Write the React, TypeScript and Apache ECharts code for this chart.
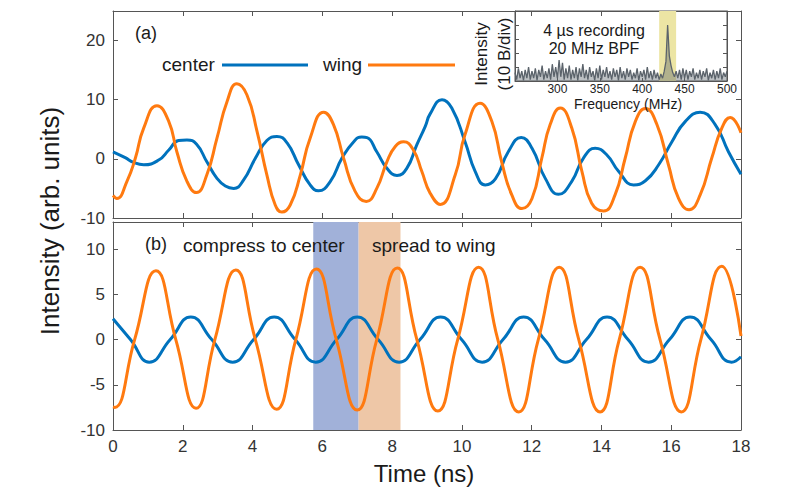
import React, { useEffect, useRef } from "react";
import * as echarts from "echarts";

// ---------- data ----------
// Panel (a): time (ns), intensity (arb. units)
const topCenter: [number, number][] = [
  [0, 1.2], [0.35, 0.2], [0.59, -0.6], [0.88, -1.0], [1.31, -0.2], [1.6, 1.5], [1.88, 3.1],
  [2.12, 3.2], [2.39, 2.5], [2.69, -0.5], [2.98, -3.3], [3.22, -4.6], [3.46, -5.0], [3.74, -3.6],
  [4.08, 0.1], [4.41, 3.1], [4.7, 3.8], [4.99, 2.7], [5.32, -1.0], [5.65, -4.4], [5.89, -5.4],
  [6.23, -3.8], [6.56, 0.1], [6.9, 2.9], [7.13, 3.7], [7.28, 3.6], [7.56, 1.2], [7.85, -1.6],
  [8.14, -2.8], [8.42, -1.6], [8.71, 2.4], [8.95, 5.5], [9.09, 7.6], [9.43, 10.0], [9.71, 8.6],
  [10.09, 2.9], [10.38, -2.1], [10.67, -4.4], [10.96, -3.4], [11.33, 1.2], [11.7, 3.6],
  [12.01, 1.8], [12.39, -3.3], [12.77, -6.0], [13.15, -3.8], [13.48, 0.1], [13.82, 1.8],
  [14.15, 0.7], [14.49, -2.1], [14.92, -4.4], [15.26, -3.7], [15.64, -1.0], [16.02, 2.9],
  [16.4, 6.3], [16.83, 7.9], [17.26, 5.8], [17.64, 1.2], [18, -2.6],
];
const topWing: [number, number][] = [
  [0, -6.2], [0.11, -6.7], [0.4, -3.8], [0.64, 0.1], [0.88, 5.2], [1.26, 9.0], [1.6, 6.3],
  [1.83, 1.2], [2.12, -3.8], [2.39, -5.7], [2.69, -2.7], [2.98, 3.5], [3.27, 9.7], [3.55, 12.7],
  [3.84, 10.8], [4.13, 4.6], [4.41, -2.7], [4.65, -7.8], [4.84, -9.0], [5.08, -7.8], [5.37, -2.7],
  [5.65, 3.5], [6.04, 7.9], [6.32, 5.8], [6.61, 0.1], [6.94, -5.5], [7.26, -7.2], [7.56, -5.0],
  [7.85, -0.5], [8.09, 2.1], [8.33, 2.9], [8.61, 1.5], [8.85, -2.1], [9.09, -5.8], [9.38, -7.7],
  [9.81, -2.7], [10.09, 4.1], [10.52, 9.4], [10.86, 6.3], [11.14, -0.5], [11.43, -6.1],
  [11.72, -8.4], [12.01, -6.7], [12.29, 0.1], [12.53, 5.8], [12.82, 8.6], [13.15, 5.2],
  [13.44, -2.1], [13.72, -7.5], [14.06, -8.8], [14.39, -6.1], [14.68, 0.1], [14.97, 6.3],
  [15.26, 8.5], [15.59, 5.8], [15.92, -1.0], [16.21, -6.7], [16.51, -8.6], [16.83, -6.1],
  [17.16, 0.1], [17.45, 5.2], [17.69, 7.0], [18, 4.4],
];

// Panel (b)
const bottomCenter: [number, number][] = [
  [0, 2.3], [0.5, 0], [1.04, -2.5], [1.64, 0], [2.23, 2.5], [2.83, 0], [3.43, -2.5], [4.03, 0],
  [4.62, 2.5], [5.22, 0], [5.81, -2.5], [6.41, 0], [7.0, 2.5], [7.6, 0], [8.2, -2.5], [8.8, 0],
  [9.39, 2.5], [9.99, 0], [10.58, -2.5], [11.18, 0], [11.77, 2.5], [12.37, 0], [12.97, -2.5],
  [13.57, 0], [14.16, 2.5], [14.76, 0], [15.35, -2.5], [15.95, 0], [16.54, 2.5], [17.14, 0],
  [17.73, -2.5], [18, -1.9],
];
const bottomWing: [number, number][] = [
  [0, -7.45], [0.05, -7.5], [0.62, 0], [1.23, 7.6], [1.8, 0], [2.38, -7.6], [2.92, 0], [3.52, 7.7],
  [4.08, 0], [4.69, -7.7], [5.24, 0], [5.83, 7.8], [6.4, 0], [7.0, -7.8], [7.56, 0], [8.15, 7.9],
  [8.71, 0], [9.31, -7.9], [9.88, 0], [10.48, 8.0], [11.03, 0], [11.63, -8.0], [12.19, 0],
  [12.79, 8.0], [13.35, 0], [13.96, -8.0], [14.51, 0], [15.11, 8.0], [15.68, 0], [16.29, -8.0],
  [16.85, 0], [17.45, 8.1], [18, 0.4],
];
const compressBand = [5.74, 7.04];
const spreadBand = [7.04, 8.24];

// Inset: spectrum, 250–500 MHz in 2 MHz steps (dB, 10 dB/div)
const specStart = 250;
const specStep = 2;
const spectrumDb = [
  6, 1, 9, 2, 7, 0.5, 8, 2, 10, 1,
  7, 2, 9, 0.5, 8, 3, 11, 1, 7, 2,
  9, 1, 12, 3, 10, 2, 15, 3, 13, 1,
  9, 2, 11, 1, 8, 2, 10, 0.5, 9, 3,
  12, 2, 8, 1, 10, 3, 7, 0.5, 9, 2,
  11, 1, 8, 3, 10, 2, 7, 1, 9, 3,
  8, 0.5, 10, 2, 7, 1, 9, 3, 8, 1,
  6, 2, 9, 0.5, 7, 3, 8, 1, 10, 2,
  7, 1, 8, 2, 6, 1, 5, 2, 7, 14,
  40, 18, 11, 6, 3, 7, 2, 8, 1, 9,
  2, 8, 1, 7, 3, 9, 1, 6, 2, 8,
  1, 7, 3, 9, 0.5, 6, 2, 8, 1, 7,
  2, 9, 1, 6, 3, 7,
];
const bpfBand = [420, 440];

// ---------- styling ----------
const FONT = '"Liberation Sans", Arial, Helvetica, sans-serif';
const BLUE = "#0072BD";
const ORANGE = "#FF7A10";
const AXIS = "#555555";
const TICKTXT = "#333333";

function frameAxis(extra: any) {
  return {
    axisLine: { show: true, onZero: false, lineStyle: { color: AXIS, width: 1 } },
    axisTick: { show: true, inside: true, length: 5, lineStyle: { color: AXIS, width: 1 } },
    splitLine: { show: false },
    axisLabel: { show: false },
    ...extra,
  };
}

function txt(x: number, y: number, text: string, size: number, align = "left", extra: any = {}) {
  return {
    type: "text",
    x,
    y,
    z: 100,
    ...extra,
    style: {
      text,
      fontSize: size,
      fontFamily: FONT,
      fill: "#1a1a1a",
      align,
      textAlign: align,
      verticalAlign: "middle",
      textVerticalAlign: "middle",
      ...(extra.style || {}),
    },
  };
}

export default function App() {
  const ref = useRef<HTMLDivElement>(null);

  useEffect(() => {
    if (!ref.current) return;
    const chart = echarts.init(ref.current, null, { renderer: "svg" });

    const tickLabel = (size: number, margin: number, extra: any = {}) => ({
      show: true,
      fontSize: size,
      fontFamily: FONT,
      color: TICKTXT,
      margin,
      ...extra,
    });

    const spectrum = spectrumDb.map((v, i) => [specStart + i * specStep, v]);
    const insetTick = { show: true, inside: true, length: 4, lineStyle: { color: AXIS } };

    const option: any = {
      animation: false,
      backgroundColor: "#ffffff",
      grid: [
        { left: 113, top: 11, width: 628, height: 207, show: false },
        { left: 113, top: 222, width: 628, height: 208, show: false },
        { left: 515, top: 11, width: 212, height: 70, show: true, backgroundColor: "#ffffff", borderColor: AXIS, borderWidth: 1 },
      ],
      xAxis: [
        frameAxis({ type: "value", gridIndex: 0, position: "bottom", min: 0, max: 18, interval: 2 }),
        frameAxis({ type: "value", gridIndex: 0, position: "top", min: 0, max: 18, interval: 2 }),
        frameAxis({
          type: "value", gridIndex: 1, position: "bottom", min: 0, max: 18, interval: 2,
          axisLabel: tickLabel(17, 8),
        }),
        frameAxis({ type: "value", gridIndex: 1, position: "top", min: 0, max: 18, interval: 2 }),
        frameAxis({
          type: "value", gridIndex: 2, position: "bottom", min: 250, max: 500, interval: 50,
          axisTick: { show: true, inside: true, length: 3, lineStyle: { color: AXIS } },
          axisLabel: tickLabel(12, 2, { showMinLabel: false, color: "#222", lineHeight: 12 }),
        }),
      ],
      yAxis: [
        frameAxis({
          type: "value", gridIndex: 0, position: "left", min: -10, max: 25, interval: 10,
          axisLabel: tickLabel(17, 8, { showMaxLabel: false }),
        }),
        frameAxis({ type: "value", gridIndex: 0, position: "right", min: -10, max: 25, interval: 10 }),
        frameAxis({
          type: "value", gridIndex: 1, position: "left", min: -10, max: 13, interval: 5,
          axisLabel: tickLabel(17, 8, { showMaxLabel: false }),
        }),
        frameAxis({ type: "value", gridIndex: 1, position: "right", min: -10, max: 13, interval: 5 }),
        frameAxis({ type: "value", gridIndex: 2, position: "left", min: 0, max: 50, interval: 10, axisTick: insetTick }),
        frameAxis({ type: "value", gridIndex: 2, position: "right", min: 0, max: 50, interval: 10, axisTick: insetTick }),
      ],
      series: [
        {
          type: "line", xAxisIndex: 0, yAxisIndex: 0, data: topCenter, smooth: 0.5,
          showSymbol: false, lineStyle: { color: BLUE, width: 3 }, z: 3, silent: true,
        },
        {
          type: "line", xAxisIndex: 0, yAxisIndex: 0, data: topWing, smooth: 0.5,
          showSymbol: false, lineStyle: { color: ORANGE, width: 3 }, z: 4, silent: true,
        },
        {
          type: "line", xAxisIndex: 2, yAxisIndex: 2, data: [], z: 1, silent: true,
          markArea: {
            silent: true,
            z: 1,
            data: [
              [{ xAxis: compressBand[0], itemStyle: { color: "#a1b1d9" } }, { xAxis: compressBand[1] }],
              [{ xAxis: spreadBand[0], itemStyle: { color: "#eec7a7" } }, { xAxis: spreadBand[1] }],
            ],
          },
        },
        {
          type: "line", xAxisIndex: 2, yAxisIndex: 2, data: bottomCenter, smooth: 0.5,
          showSymbol: false, lineStyle: { color: BLUE, width: 3 }, z: 3, silent: true,
        },
        {
          type: "line", xAxisIndex: 2, yAxisIndex: 2, data: bottomWing, smooth: 0.5,
          showSymbol: false, lineStyle: { color: ORANGE, width: 3 }, z: 4, silent: true,
        },
        {
          type: "line", xAxisIndex: 4, yAxisIndex: 4, data: [], z: 2, silent: true,
          markArea: {
            silent: true,
            z: 2,
            data: [[{ xAxis: bpfBand[0], itemStyle: { color: "#ece5a4" } }, { xAxis: bpfBand[1] }]],
          },
        },
        {
          type: "line", xAxisIndex: 4, yAxisIndex: 4, data: spectrum, smooth: false,
          showSymbol: false, lineStyle: { color: "#5b636b", width: 1.3 },
          areaStyle: { color: "#5b636b", opacity: 0.4 }, z: 7, silent: true,
        },
      ],
      graphic: [
        txt(135, 33, "(a)", 18),
        txt(162, 64, "center", 19),
        { type: "line", z: 100, shape: { x1: 222, y1: 65, x2: 308, y2: 65 }, style: { stroke: BLUE, lineWidth: 3 } },
        txt(323, 64, "wing", 19),
        { type: "line", z: 100, shape: { x1: 368, y1: 65, x2: 455, y2: 65 }, style: { stroke: ORANGE, lineWidth: 3 } },
        txt(145, 243.5, "(b)", 18),
        txt(183, 245, "compress to center", 19),
        txt(372, 245, "spread to wing", 19),
        txt(594, 30, "4 µs recording", 16, "center"),
        txt(594, 48, "20 MHz BPF", 16, "center"),
        txt(628, 103.5, "Frequency (MHz)", 14, "center", { style: { lineHeight: 14 } }),
        txt(492.5, 54, "Intensity\n(10 B/div)", 17, "center", { rotation: Math.PI / 2, style: { lineHeight: 23 } }),
        txt(50, 221, "Intensity (arb. units)", 26, "center", { rotation: Math.PI / 2 }),
        txt(424, 473, "Time (ns)", 24, "center"),
      ],
    };

    chart.setOption(option);
    return () => chart.dispose();
  }, []);

  return (
    <div
      ref={ref}
      style={{ position: "fixed", left: 0, top: 0, width: 789, height: 492, background: "#fff" }}
    />
  );
}
